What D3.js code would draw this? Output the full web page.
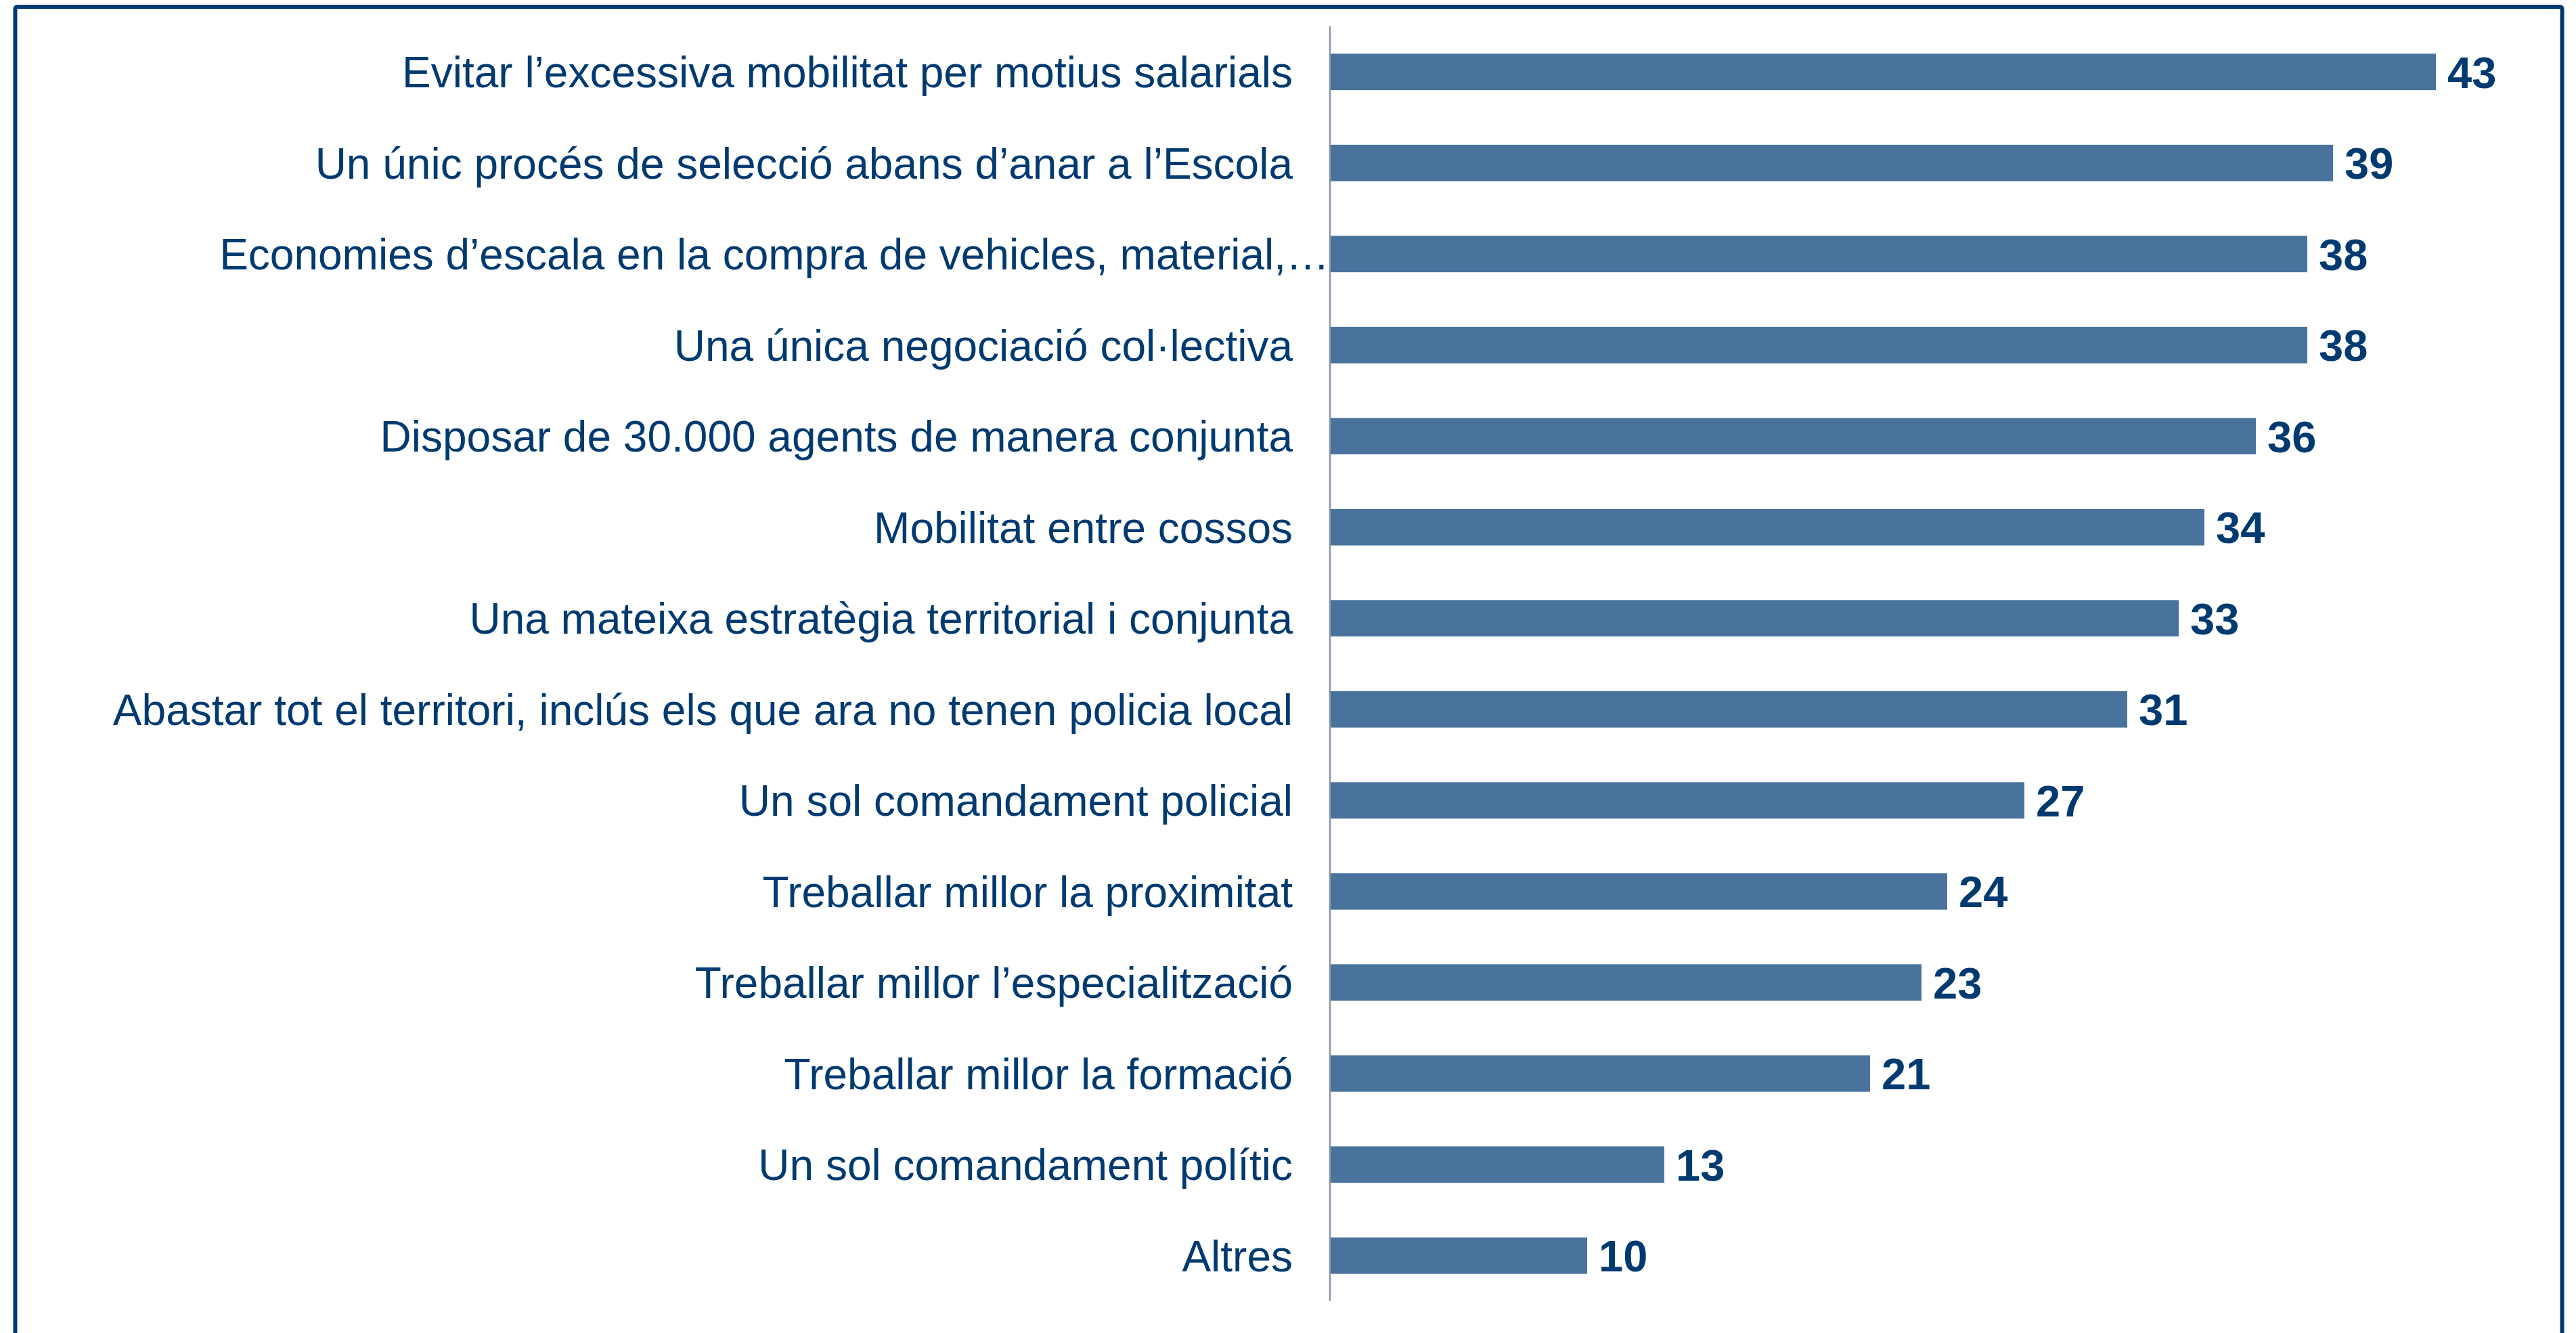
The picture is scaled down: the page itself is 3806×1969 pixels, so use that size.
<!DOCTYPE html>
<html>
<head>
<meta charset="utf-8">
<script src="https://cdn.jsdelivr.net/npm/d3@7"></script>
<style>
  html, body { margin: 0; padding: 0; background: #ffffff; }
  svg { display: block; }
</style>
</head>
<body>
<div id="chart"></div>
<script>
    const width = 3806
    const height = 1969

    // data, top to bottom as in the picture
    const categories = [
        "Evitar l’excessiva mobilitat per motius salarials",
        "Un únic procés de selecció abans d’anar a l’Escola",
        "Economies d’escala en la compra de vehicles, material,…",
        "Una única negociació col·lectiva",
        "Disposar de 30.000 agents de manera conjunta",
        "Mobilitat entre cossos",
        "Una mateixa estratègia territorial i conjunta",
        "Abastar tot el territori, inclús els que ara no tenen policia local",
        "Un sol comandament policial",
        "Treballar millor la proximitat",
        "Treballar millor l’especialització",
        "Treballar millor la formació",
        "Un sol comandament polític",
        "Altres"
    ]
    const values = [43, 39, 38, 38, 36, 34, 33, 31, 27, 24, 23, 21, 13, 10]

    const textColor = "#003a70"
    const barColor = "#49739c"
    const axisColor = "#8a93a6"

    const margin = {top: 39, left: 1965, bottom: 47}
    const pxPerUnit = 38

    const svg = d3.select("#chart")
        .append("svg")
        .attr("width", width)
        .attr("height", height)

    // frame round the chart (bottom edge falls outside the picture)
    svg.append("rect")
        .attr("x", 22.5)
        .attr("y", 10)
        .attr("width", 3763)
        .attr("height", 2100)
        .attr("rx", 3)
        .attr("fill", "none")
        .attr("stroke", "#003a70")
        .attr("stroke-width", 6)

    const y = d3.scaleBand()
        .domain(categories)
        .range([margin.top, height - margin.bottom])
        .paddingInner(0.6)
        .paddingOuter(0.3)

    const x = d3.scaleLinear()
        .domain([0, 50])
        .range([margin.left, margin.left + 50 * pxPerUnit])

    const g = svg.append("g")

    g.selectAll("rect.bar")
        .data(values)
        .join("rect")
        .attr("class", "bar")
        .attr("x", x(0))
        .attr("y", (d, i) => y(categories[i]))
        .attr("width", d => x(d) - x(0))
        .attr("height", y.bandwidth())
        .attr("fill", barColor)

    // value labels
    g.selectAll("text.value")
        .data(values)
        .join("text")
        .attr("class", "value")
        .attr("x", d => x(d) + 17)
        .attr("y", (d, i) => y(categories[i]) + y.bandwidth() / 2)
        .attr("dy", "0.36em")
        .attr("font-family", "Liberation Sans, Arial, sans-serif")
        .attr("font-weight", "bold")
        .attr("font-size", 65)
        .attr("fill", textColor)
        .text(d => d)

    // category axis on the left, no ticks
    const yAxis = d3.axisLeft(y).tickSize(0).tickPadding(55)
    const ag = svg.append("g")
        .attr("transform", `translate(${x(0)},0)`)
        .call(yAxis)

    ag.select(".domain")
        .attr("d", `M0,${margin.top}V${height - margin.bottom}`)
        .attr("stroke", axisColor)
        .attr("stroke-width", 2.5)

    ag.selectAll(".tick text")
        .attr("font-family", "Liberation Sans, Arial, sans-serif")
        .attr("font-size", 64)
        .attr("fill", textColor)
        .attr("dy", "0.36em")
        // the truncated label runs right up to the axis
        .attr("x", d => d.endsWith("…") ? -1 : -55)
</script>
</body>
</html>
